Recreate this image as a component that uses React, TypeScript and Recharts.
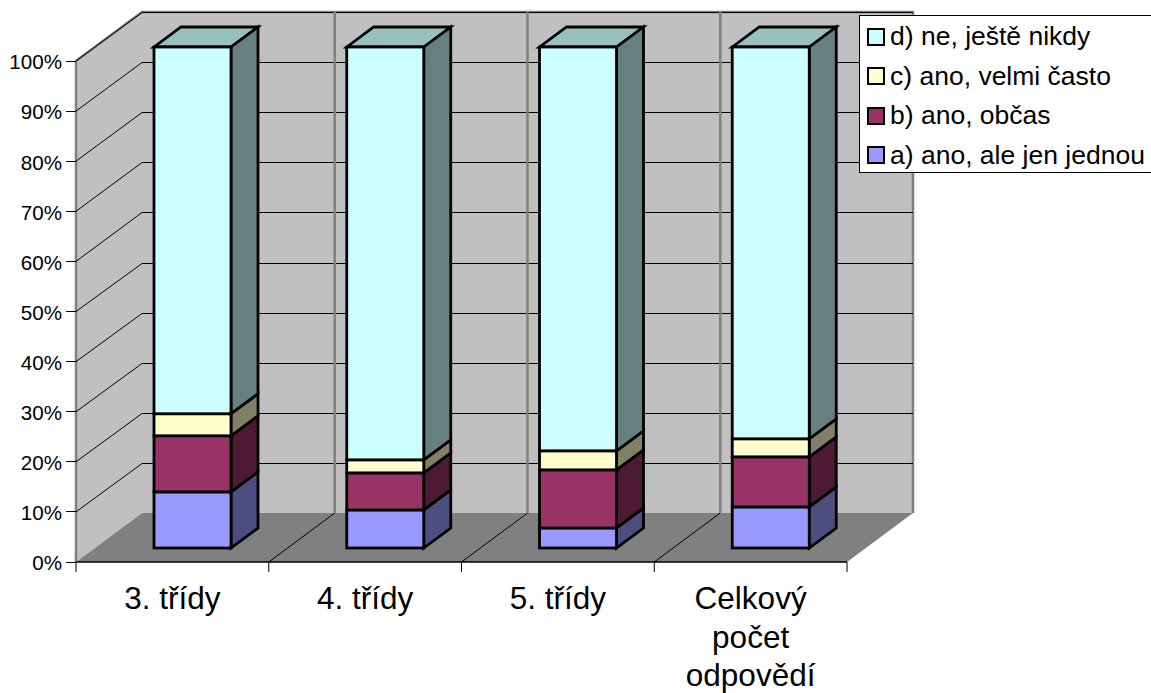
import { BarChart, Bar, XAxis, YAxis, CartesianGrid, Legend } from "recharts";

const categories = ["3. třídy", "4. třídy", "5. třídy", "Celkový počet odpovědí"];
const valuesA = [11.2, 7.6, 4.0, 8.2];
const valuesB = [11.2, 7.4, 11.6, 10.0];
const valuesC = [4.4, 2.6, 3.8, 3.6];
const valuesD = [73.2, 82.4, 80.6, 78.2];
const percentTicks = [0, 10, 20, 30, 40, 50, 60, 70, 80, 90, 100];

const data = categories.map((name, i) => ({
  name,
  a: valuesA[i],
  b: valuesB[i],
  c: valuesC[i],
  d: valuesD[i],
}));

const W = 1151;
const H = 693;
const LEFT = 76;
const TOP = 61;
const PLOT_W = 771;
const PLOT_H = 501;
const LEGEND_W = 292;
const DX = 66;
const DY = -49;
const FONT = "'Liberation Sans', Arial, sans-serif";

// walls and floor of the 3d box, behind everything
const Walls = () => {
  const r = LEFT + PLOT_W;
  const b = TOP + PLOT_H;
  return (
    <g>
      <polygon points={`${LEFT},${TOP} ${LEFT + DX},${TOP + DY} ${LEFT + DX},${b + DY} ${LEFT},${b}`} fill="#c0c0c0" />
      <rect x={LEFT + DX} y={TOP + DY} width={PLOT_W} height={PLOT_H} fill="#c0c0c0" />
      <polygon points={`${LEFT},${b} ${r},${b} ${r + DX},${b + DY} ${LEFT + DX},${b + DY}`} fill="#808080" />
      <polyline
        points={`${LEFT},${b} ${LEFT},${TOP} ${LEFT + DX},${TOP + DY} ${r + DX},${TOP + DY} ${r + DX},${b + DY}`}
        fill="none"
        stroke="#808080"
        strokeWidth={2.5}
      />
    </g>
  );
};

const HLine = ({ x1, y1, x2, index }: any) => {
  if (y1 >= TOP + PLOT_H - 1) return <g key={index} />;
  const backY = Math.round(y1 + DY) + 0.5;
  return (
    <g key={index} stroke="#000" strokeWidth={1}>
      <line x1={x1} y1={y1} x2={x1 + DX} y2={backY} />
      <line x1={x1 + DX} y1={backY} x2={x2 + DX} y2={backY} />
    </g>
  );
};

const VLine = ({ x1, y1, y2, index }: any) => (
  <g key={index}>
    <line x1={x1} y1={y2} x2={x1 + DX} y2={y2 + DY} stroke="#000" strokeWidth={1} />
    <line x1={x1 + DX} y1={y2 + DY} x2={x1 + DX} y2={y1 + DY} stroke="#808080" strokeWidth={2.5} />
  </g>
);

const boxX = 20;
const boxY = -14;
const sideX = 27;
const sideY = -20;

const Box3D = ({ x, y, width, height, fill, side, top }: any) => {
  const fx = x + boxX;
  const fy = y + boxY;
  const rx = fx + width;
  const by = fy + height;
  return (
    <g stroke="#000" strokeWidth={2.8}>
      {top && (
        <polygon
          points={`${fx},${fy} ${fx + sideX},${fy + sideY} ${rx + sideX},${fy + sideY} ${rx},${fy}`}
          fill={top}
        />
      )}
      <polygon
        points={`${rx},${fy} ${rx + sideX},${fy + sideY} ${rx + sideX},${by + sideY} ${rx},${by}`}
        fill={side}
      />
      <rect x={fx} y={fy} width={width} height={height} fill={fill} />
    </g>
  );
};

// category ticks sit on the band edges, labels in the middle
const CategoryTick = ({ x, y, index, payload }: any) => {
  const band = PLOT_W / categories.length;
  const lines = payload.value.length > 10 ? payload.value.split(" ") : [payload.value];
  return (
    <g>
      <line x1={x - band / 2} y1={y} x2={x - band / 2} y2={y + 10} stroke="#000" />
      {index === categories.length - 1 && <line x1={x + band / 2} y1={y} x2={x + band / 2} y2={y + 10} stroke="#000" />}
      <text x={x} y={y} textAnchor="middle" fontSize={31.5} fontFamily={FONT} fill="#000">
        {lines.map((l: string, i: number) => (
          <tspan key={i} x={x} y={y + 47 + i * 38.5}>{l}</tspan>
        ))}
      </text>
    </g>
  );
};

const LegendBox = ({ payload }: any) => (
  <div
    style={{
      width: LEGEND_W,
      height: 158,
      boxSizing: "border-box",
      background: "#fff",
      border: "1px solid #000",
      borderRight: "none",
      paddingTop: 1,
      fontFamily: FONT,
      fontSize: 26.5,
      color: "#000",
    }}
  >
    {[...(payload || [])].reverse().map((item: any) => (
      <div key={item.value} style={{ display: "flex", alignItems: "center", height: 39.5, paddingLeft: 7 }}>
        <span
          style={{
            display: "inline-block",
            width: 14,
            height: 14,
            background: item.color,
            border: "2px solid #000",
            marginRight: 5,
          }}
        />
        <span style={{ whiteSpace: "nowrap" }}>{item.value}</span>
      </div>
    ))}
  </div>
);

const series = [
  { key: "a", name: "a) ano, ale jen jednou", fill: "#9999ff", side: "#4d4d80" },
  { key: "b", name: "b) ano, občas", fill: "#993366", side: "#4d1a33" },
  { key: "c", name: "c) ano, velmi často", fill: "#ffffcc", side: "#808066" },
  { key: "d", name: "d) ne, ještě nikdy", fill: "#ccffff", side: "#668080", top: "#99bfbf" },
];

export default function App() {
  return (
    <div style={{ position: "fixed", left: 0, top: 0, width: W, height: H, overflow: "hidden", background: "#fff" }}>
      <BarChart
        width={W}
        height={H}
        data={data}
        barSize={77}
        margin={{ top: TOP, right: W - LEFT - PLOT_W - LEGEND_W, bottom: 0, left: 0 }}
      >
        <Walls />
        <CartesianGrid
          zIndex={1}
          horizontal={(p: any) => <HLine {...p} />}
          vertical={(p: any) => <VLine {...p} />}
          verticalCoordinatesGenerator={({ offset }: any) =>
            categories.slice(1).map((_, i) => offset.left + (i + 1) * (offset.width / categories.length))
          }
        />
        <XAxis
          dataKey="name"
          height={H - TOP - PLOT_H}
          interval={0}
          tickSize={0}
          tickMargin={0}
          tickLine={false}
          axisLine={{ stroke: "#000", strokeWidth: 1.5 }}
          tick={(p: any) => <CategoryTick {...p} />}
        />
        <YAxis
          width={LEFT}
          domain={[0, 100]}
          ticks={percentTicks}
          interval={0}
          tickSize={10}
          tickMargin={4}
          tickFormatter={(v: number) => `${v}%`}
          axisLine={false}
          tickLine={{ stroke: "#000", shapeRendering: "crispEdges" }}
          tick={{ fontSize: 20.6, fontFamily: FONT, fill: "#000", dy: 1 }}
        />
        <Legend
          layout="vertical"
          align="right"
          verticalAlign="top"
          wrapperStyle={{ left: W - LEGEND_W, top: 15, right: "auto" }}
          content={(p: any) => <LegendBox {...p} />}
        />
        {series.map((s) => (
          <Bar
            key={s.key}
            dataKey={s.key}
            name={s.name}
            stackId="total"
            fill={s.fill}
            isAnimationActive={false}
            shape={(p: any) => <Box3D {...p} side={s.side} top={s.top} />}
          />
        ))}
      </BarChart>
    </div>
  );
}
